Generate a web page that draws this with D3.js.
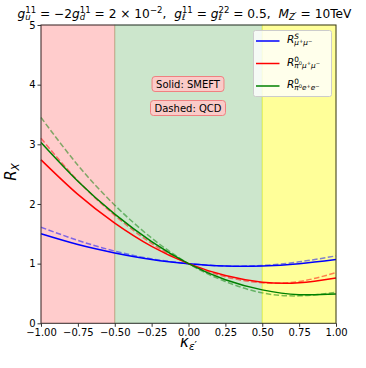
<!DOCTYPE html>
<html>
<head>
<meta charset="utf-8">
<script src="https://cdn.jsdelivr.net/npm/d3@7"></script>
<style>
  body { margin: 0; background: #fff; }
  svg text { font-family: "DejaVu Sans", sans-serif; fill: #000; white-space: pre; }
</style>
</head>
<body>
<div id="vis"></div>
<script>
var kappa = [-1, -0.75, -0.5, -0.25, 0, 0.25, 0.5, 0.75, 1];

// solid = SMEFT, dashed = QCD
var blueSolid  = [1.50, 1.32, 1.18, 1.07, 1.00, 0.96, 0.96, 1.00, 1.07];
var blueDashed = [1.61, 1.39, 1.21, 1.08, 1.00, 0.96, 0.97, 1.03, 1.13];
var redSolid   = [2.74, 2.16, 1.68, 1.29, 1.00, 0.80, 0.69, 0.68, 0.76];
var redDashed  = [3.10, 2.39, 1.81, 1.34, 1.00, 0.78, 0.68, 0.70, 0.85];
var greenSolid = [3.03, 2.38, 1.83, 1.37, 1.00, 0.73, 0.56, 0.48, 0.49];
var greenDashed= [3.45, 2.65, 1.98, 1.43, 1.00, 0.70, 0.51, 0.46, 0.52];

var regions = [[-1, -0.5, "red", 0.2], [-0.5, 0.5, "green", 0.2], [0.5, 1, "yellow", 0.4]];
var xTicks = [-1, -0.75, -0.5, -0.25, 0, 0.25, 0.5, 0.75, 1];
var yTicks = [0, 1, 2, 3, 4, 5];

var W = 366, H = 368;
var margin = {left: 41, right: 30, top: 25, bottom: 45};

var svg = d3.select("#vis").append("svg").attr("width", W).attr("height", H);

var x = d3.scaleLinear().domain([-1, 1]).range([margin.left, W - margin.right]);
var y = d3.scaleLinear().domain([0, 5]).range([H - margin.bottom + 0.3, margin.top]);

//draw a run of text pieces (tspans) at x,y, return its width
function run(g, px, py, items, size) {
    var t = g.append("text").attr("x", px).attr("y", py);
    items.forEach(function (it) {
        var s = size * (it.sm || 1);
        t.append("tspan")
            .attr("y", py + (it.up || 0) * size)
            .attr("font-size", s)
            .attr("font-style", it.it ? "italic" : "normal")
            .text(it.t);
    });
    return t.node().getComputedTextLength();
}

//math-like label: segments are plain pieces or {stack: [sup, sub]}
function mathLine(parent, segs, size) {
    var g = parent.append("g");
    var cx = 0;
    segs.forEach(function (s) {
        if (s.stack) {
            var w1 = s.stack[0].length ? run(g, cx, -0.38 * size, s.stack[0], size * 0.7) : 0;
            var w2 = s.stack[1].length ? run(g, cx, 0.2 * size, s.stack[1], size * 0.7) : 0;
            cx += Math.max(w1, w2);
        } else {
            cx += run(g, cx, 0, [s], size);
        }
    });
    return {g: g, width: cx};
}

// background bands
svg.selectAll("rect.band")
    .data(regions)
    .enter().append("rect")
    .attr("class", "band")
    .attr("x", function (d) { return x(d[0]); })
    .attr("width", function (d) { return x(d[1]) - x(d[0]); })
    .attr("y", y(5))
    .attr("height", y(0) - y(5))
    .attr("fill", function (d) { return d[2]; })
    .attr("fill-opacity", function (d) { return d[3]; })
    .attr("stroke", function (d) { return d[2]; })
    .attr("stroke-opacity", function (d) { return d[3]; });

// curves
var series = [
    {v: blueDashed, c: "blue", dash: true},
    {v: redDashed, c: "red", dash: true},
    {v: greenDashed, c: "green", dash: true},
    {v: blueSolid, c: "blue"},
    {v: redSolid, c: "red"},
    {v: greenSolid, c: "green"}
];
var line = d3.line()
    .x(function (d) { return x(d[0]); })
    .y(function (d) { return y(d[1]); })
    .curve(d3.curveNatural);

var plot = svg.append("g");
series.forEach(function (s) {
    plot.append("path")
        .datum(kappa.map(function (k, i) { return [k, s.v[i]]; }))
        .attr("d", line)
        .attr("fill", "none")
        .attr("stroke", s.c)
        .attr("stroke-width", 1.5)
        .attr("stroke-opacity", s.dash ? 0.5 : 1)
        .attr("stroke-dasharray", s.dash ? "5.5,2.4" : null);
});

// axes
var xAxis = d3.axisBottom(x).tickValues(xTicks).tickFormat(d3.format(".2f")).tickSize(3.5).tickPadding(2);
var yAxis = d3.axisLeft(y).tickValues(yTicks).tickFormat(d3.format("d")).tickSize(3.5).tickPadding(2);

var gx = svg.append("g").attr("transform", "translate(0," + y(0) + ")").call(xAxis);
var gy = svg.append("g").attr("transform", "translate(" + x(-1) + ",0)").call(yAxis);
[gx, gy].forEach(function (g) {
    g.select(".domain").remove();
    g.selectAll("text").attr("font-size", 10).attr("font-family", "DejaVu Sans").attr("fill", "#000");
    g.selectAll("line").attr("stroke", "#000").attr("stroke-width", 0.8);
});

// frame
svg.append("rect")
    .attr("x", x(-1)).attr("y", y(5))
    .attr("width", x(1) - x(-1)).attr("height", y(0) - y(5))
    .attr("fill", "none").attr("stroke", "#333").attr("stroke-width", 1);

// annotation boxes
var notes = [["Solid: SMEFT", 84], ["Dashed: QCD", 108]];
notes.forEach(function (n) {
    var g = svg.append("g");
    var t = g.append("text").attr("x", 188).attr("y", n[1] + 3.5)
        .attr("text-anchor", "middle").attr("font-size", 10).text(n[0]);
    var w = t.node().getComputedTextLength();
    g.insert("rect", "text")
        .attr("x", 188 - w / 2 - 4).attr("y", n[1] - 7.5)
        .attr("width", w + 8).attr("height", 15)
        .attr("rx", 3)
        .attr("fill", "#ffc8c8").attr("fill-opacity", 0.9)
        .attr("stroke", "#f08080").attr("stroke-width", 1);
});

// legend
var leg = svg.append("g");
leg.append("rect")
    .attr("x", 253.5).attr("y", 30.5).attr("width", 78).attr("height", 66).attr("rx", 2)
    .attr("fill", "#fff").attr("fill-opacity", 0.8).attr("stroke", "#ccc");
var legItems = [
    {c: "blue", yy: 41, segs: [{t: "R", it: 1}, {stack: [[{t: "S", it: 1}],
        [{t: "μ", it: 1}, {t: "+", sm: 0.7, up: -0.3}, {t: "μ", it: 1}, {t: "−", sm: 0.7, up: -0.3}]]}]},
    {c: "red", yy: 63.5, segs: [{t: "R", it: 1}, {stack: [[{t: "0"}],
        [{t: "π", it: 1}, {t: "0", sm: 0.7, up: -0.3}, {t: "μ", it: 1}, {t: "+", sm: 0.7, up: -0.3}, {t: "μ", it: 1}, {t: "−", sm: 0.7, up: -0.3}]]}]},
    {c: "green", yy: 86, segs: [{t: "R", it: 1}, {stack: [[{t: "0"}],
        [{t: "π", it: 1}, {t: "0", sm: 0.7, up: -0.3}, {t: "e", it: 1}, {t: "+", sm: 0.7, up: -0.3}, {t: "e", it: 1}, {t: "−", sm: 0.7, up: -0.3}]]}]}
];
legItems.forEach(function (d) {
    leg.append("line").attr("x1", 256).attr("x2", 279.5).attr("y1", d.yy).attr("y2", d.yy)
        .attr("stroke", d.c).attr("stroke-width", 1.5);
    var m = mathLine(leg, d.segs, 10.5);
    m.g.attr("transform", "translate(287," + (d.yy + 2) + ")");
});

// title, stretched to the reference width
var title = mathLine(svg, [
    {t: "g", it: 1}, {stack: [[{t: "11"}], [{t: "u", it: 1}]]},
    {t: " = −2"},
    {t: "g", it: 1}, {stack: [[{t: "11"}], [{t: "d", it: 1}]]},
    {t: " = 2 × 10"}, {stack: [[{t: "−2"}], []]},
    {t: ",  "},
    {t: "g", it: 1}, {stack: [[{t: "11"}], [{t: "ℓ", it: 1}]]},
    {t: " = "},
    {t: "g", it: 1}, {stack: [[{t: "22"}], [{t: "ℓ", it: 1}]]},
    {t: " = 0.5,  "},
    {t: "M", it: 1}, {stack: [[], [{t: "Z", it: 1}, {t: "′", up: -0.1}]]},
    {t: " = 10TeV"}
], 12);
var tk = 334 / title.width;
title.g.attr("transform", "translate(" + (184.5 - title.width * tk / 2) + ",17.5) scale(" + tk + ")");

// axis labels
var xl = mathLine(svg, [{t: "κ", it: 1}, {stack: [[], [{t: "ε", it: 1}, {t: "′", up: -0.1}]]}], 15);
xl.g.attr("transform", "translate(" + (x(0) - xl.width / 2) + ",347)");

var yl = mathLine(svg, [{t: "R", it: 1}, {stack: [[], [{t: "X", it: 1}]]}], 15);
yl.g.attr("transform", "translate(16," + (172 + yl.width / 2) + ") rotate(-90)");
</script>
</body>
</html>
